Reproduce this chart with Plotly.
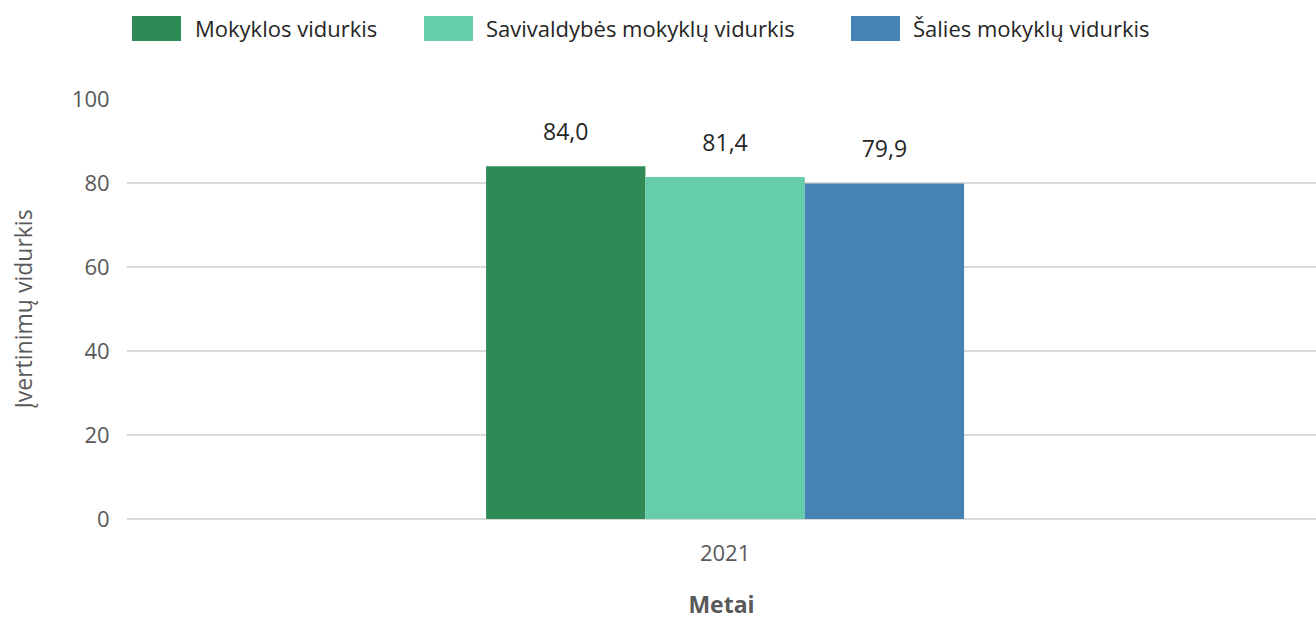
import plotly.graph_objects as go

years = ["2021"]
series_names = ["Mokyklos vidurkis", "Savivaldybės mokyklų vidurkis", "Šalies mokyklų vidurkis"]
mokyklos = [84.0]
savivaldybes = [81.4]
salies = [79.9]
colors = ["#2e8b57", "#66cdaa", "#4682b4"]

FONT = "Open Sans"
BARGAP = 0.598
fig = go.Figure()
series = [mokyklos, savivaldybes, salies]
for i, (name, vals, col) in enumerate(zip(series_names, series, colors)):
    fig.add_trace(go.Bar(
        x=years, y=vals, name=name, marker=dict(color=col, line=dict(width=0)),
        offsetgroup=str(i), showlegend=False, hoverinfo="x+y+name",
    ))
for i, (name, vals) in enumerate(zip(series_names, series)):
    fig.add_trace(go.Scatter(
        x=years, y=vals, name=name, mode="markers+text",
        marker=dict(size=31, opacity=0, color="white"),
        text=[f"{v:.1f}".replace(".", ",") for v in vals],
        textposition="top center",
        textfont=dict(family=FONT, size=23, color="#262626"),
        offsetgroup=str(i), cliponaxis=False, showlegend=False, hoverinfo="skip",
    ))

# custom legend (shapes + text), positions in page pixels
L, T, PW, PH = 127, 99, 1189.0, 420.0
def px(x):
    return (x - L) / PW
def py(y):
    return (T + PH - y) / PH

leg = [(132, 181, 193), (424, 473, 484), (851, 900, 911)]
for (x0, x1, tx), name, col in zip(leg, series_names, colors):
    fig.add_shape(type="rect", xref="paper", yref="paper",
                  x0=px(x0), x1=px(x1), y0=py(41), y1=py(16),
                  fillcolor=col, line=dict(width=0))
    fig.add_annotation(xref="paper", yref="paper", x=px(tx), y=py(28.5),
                       text=name, showarrow=False, xanchor="left", yanchor="middle",
                       font=dict(family=FONT, size=22, color="#262626"))

fig.update_layout(
    width=1316, height=620,
    margin=dict(l=L, r=0, t=T, b=101),
    plot_bgcolor="white", paper_bgcolor="white",
    barmode="group", bargap=BARGAP, bargroupgap=0,
    scattermode="group", scattergap=BARGAP,
    separators=", ",
    font=dict(family=FONT, color="#595959"),
    showlegend=False,
    xaxis=dict(
        type="category", range=[-0.503, 0.497],
        showgrid=False, showline=False, zeroline=False,
        ticks="outside", ticklen=15, tickcolor="rgba(0,0,0,0)",
        tickfont=dict(family=FONT, size=22, color="#595959"),
        title=dict(text="<b>Metai</b>", font=dict(family=FONT, size=23, color="#595959"), standoff=30),
    ),
    yaxis=dict(
        range=[0, 100], dtick=20, showgrid=True, gridcolor="#d9d9d9", gridwidth=2,
        zeroline=True, zerolinecolor="#d9d9d9", zerolinewidth=2, showline=False,
        ticks="outside", ticklen=12, tickcolor="rgba(0,0,0,0)",
        tickfont=dict(family=FONT, size=22, color="#595959"),
        title=dict(text="Įvertinimų vidurkis", font=dict(family=FONT, size=23, color="#595959"), standoff=32),
    ),
)

fig.write_html(
    "out.html",
    config={"displayModeBar": False},
    post_script="document.body.style.margin='0';document.body.style.overflow='hidden';",
)
